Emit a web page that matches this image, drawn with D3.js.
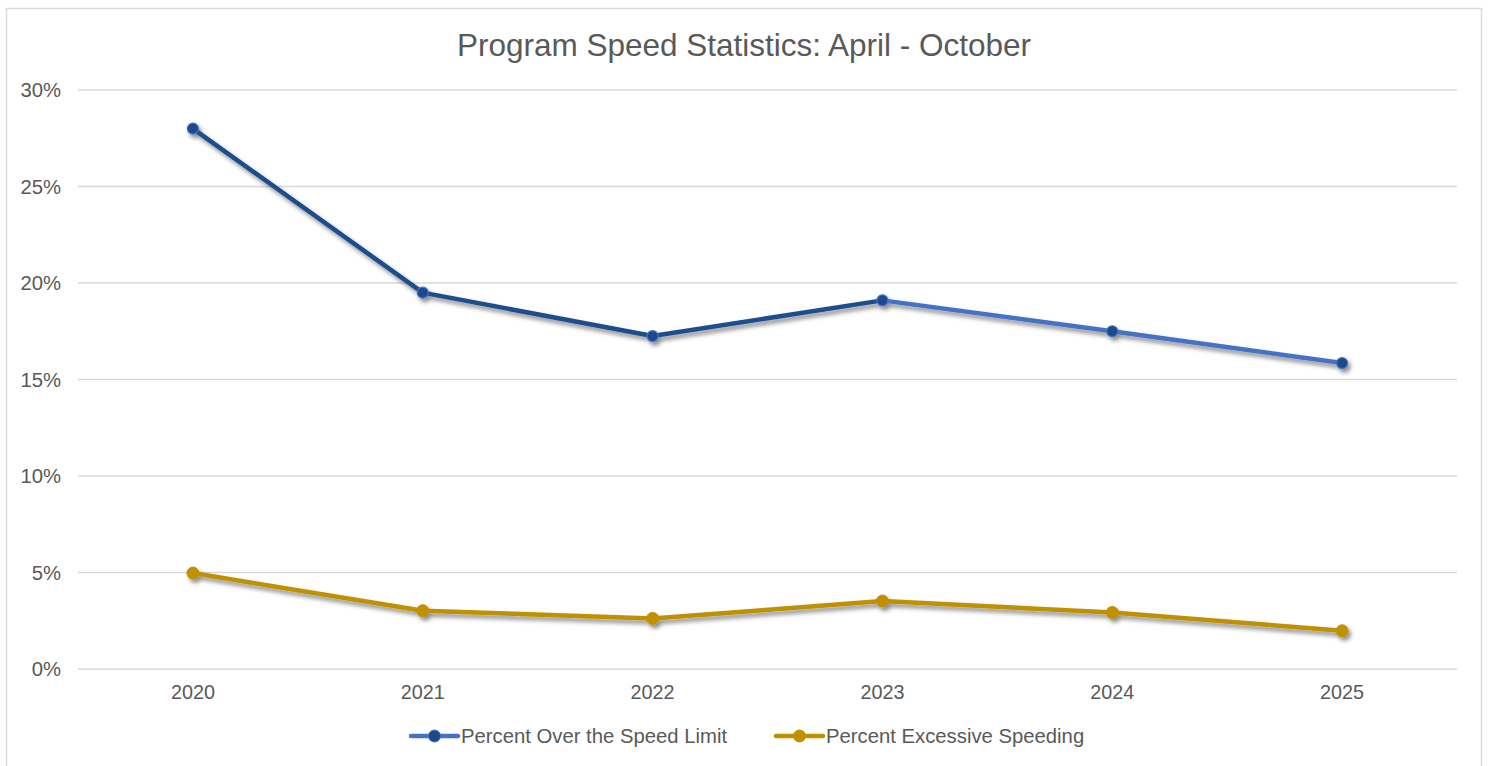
<!DOCTYPE html>
<html><head><meta charset="utf-8">
<script src="https://cdn.jsdelivr.net/npm/d3@7"></script>
<style>
html,body{margin:0;padding:0;background:#fff;}
text{font-family:"Liberation Sans",Arial,sans-serif;}
</style></head>
<body>
<svg id="chart" width="1490" height="766"></svg>
<script>
const years = ["2020","2021","2022","2023","2024","2025"];
const overLimit = [28.0, 19.5, 17.25, 19.1, 17.5, 15.85];
const excessive = [4.97, 3.02, 2.62, 3.52, 2.93, 1.98];
const yTicks = [0, 5, 10, 15, 20, 25, 30];
const seriesNames = ["Percent Over the Speed Limit", "Percent Excessive Speeding"];
const title = "Program Speed Statistics: April - October";

const W = 1490, H = 766;
const m = {left: 78, right: 1457, top: 90, bottom: 669};
const svg = d3.select("#chart");

const defs = svg.append("defs");
const f = defs.append("filter").attr("id","sh").attr("x","-50%").attr("y","-50%").attr("width","200%").attr("height","200%");
f.append("feDropShadow").attr("dx",2.5).attr("dy",3.5).attr("stdDeviation",2).attr("flood-color","#000").attr("flood-opacity",0.45);

// border
svg.append("rect").attr("x",6.5).attr("y",8.5).attr("width",1475).attr("height",800)
  .attr("fill","#fff").attr("stroke","#d9d9d9").attr("stroke-width",1.5);

svg.append("text").attr("x",744).attr("y",56).attr("text-anchor","middle")
  .attr("font-size",31.5).attr("fill","#595959").text(title);

const x = d3.scaleBand().domain(years).range([m.left, m.right]);
const y = d3.scaleLinear().domain([0,30]).range([m.bottom, m.top]);
const cx = d => x(d) + x.bandwidth()/2;

// gridlines
svg.append("g").selectAll("line").data(yTicks).join("line")
  .attr("x1",m.left).attr("x2",m.right)
  .attr("y1",d=>y(d)).attr("y2",d=>y(d))
  .attr("stroke","#d9d9d9").attr("stroke-width",1.5);

// y labels
svg.append("g").selectAll("text").data(yTicks).join("text")
  .attr("x",61).attr("y",d=>y(d)).attr("dy","0.36em").attr("text-anchor","end")
  .attr("font-size",20.3).attr("fill","#595959").text(d=>d+"%");

// x labels
svg.append("g").selectAll("text").data(years).join("text")
  .attr("x",d=>cx(d)).attr("y",692).attr("dy","0.36em").attr("text-anchor","middle")
  .attr("font-size",19.8).attr("fill","#595959").text(d=>d);

const darkBlue = "#1f4e8c", lightBlue = "#4472c4", markBlue = "#1a4a8a", gold = "#bf9000";
const switchIdx = 3;

const line = d3.line().x(d=>cx(d.yr)).y(d=>y(d.v));
const blueData = years.map((yr,i)=>({yr, v: overLimit[i]}));
const goldData = years.map((yr,i)=>({yr, v: excessive[i]}));

const g = svg.append("g").attr("filter","url(#sh)");
g.append("path").datum(goldData).attr("d",line).attr("fill","none")
  .attr("stroke",gold).attr("stroke-width",4.5).attr("stroke-linejoin","round").attr("stroke-linecap","round");
g.append("path").datum(blueData.slice(switchIdx)).attr("d",line).attr("fill","none")
  .attr("stroke",lightBlue).attr("stroke-width",4.5).attr("stroke-linejoin","round").attr("stroke-linecap","round");
g.append("path").datum(blueData.slice(0,switchIdx+1)).attr("d",line).attr("fill","none")
  .attr("stroke",darkBlue).attr("stroke-width",4.5).attr("stroke-linejoin","round").attr("stroke-linecap","round");
g.selectAll("circle.b").data(blueData).join("circle").attr("class","b")
  .attr("cx",d=>cx(d.yr)).attr("cy",d=>y(d.v)).attr("r",5.5)
  .attr("fill",markBlue).attr("stroke",lightBlue).attr("stroke-width",1.2);
g.selectAll("circle.o").data(goldData).join("circle").attr("class","o")
  .attr("cx",d=>cx(d.yr)).attr("cy",d=>y(d.v)).attr("r",6)
  .attr("fill",gold).attr("stroke",gold).attr("stroke-width",1);

// legend
const leg = [
  {name: seriesNames[0], x: 411, lc: lightBlue, mc: markBlue, ms: lightBlue},
  {name: seriesNames[1], x: 776, lc: gold, mc: gold, ms: gold}
];
const lg = svg.append("g").selectAll("g").data(leg).join("g").attr("transform",d=>`translate(${d.x},736)`);
lg.append("line").attr("x1",0).attr("x2",47).attr("y1",0).attr("y2",0)
  .attr("stroke",d=>d.lc).attr("stroke-width",4.5).attr("stroke-linecap","round");
lg.append("circle").attr("cx",23.5).attr("cy",0).attr("r",6)
  .attr("fill",d=>d.mc).attr("stroke",d=>d.ms).attr("stroke-width",1);
lg.append("text").attr("x",50).attr("y",0).attr("dy","0.36em")
  .attr("font-size",20.3).attr("fill","#595959").text(d=>d.name);
</script>
</body></html>
